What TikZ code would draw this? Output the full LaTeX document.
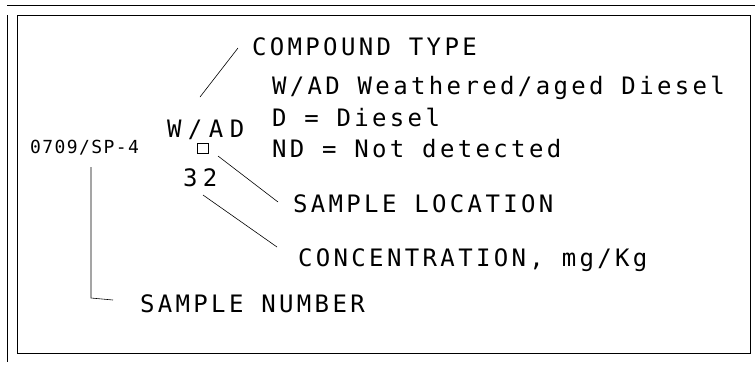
\documentclass[tikz,border=0pt]{standalone}
\usepackage{fontspec}
\newfontfamily\plotfont[LetterSpace=14]{DejaVu Sans Mono}
\newfontfamily\plotwide[LetterSpace=27]{DejaVu Sans Mono}
\newfontfamily\plotnum[LetterSpace=23]{DejaVu Sans Mono}
\newfontfamily\plotsmall[LetterSpace=8]{DejaVu Sans Mono}
\begin{document}
\begin{tikzpicture}[x=1pt,y=-1pt,
  lbl/.style={anchor=base west,inner sep=0pt,outer sep=0pt,font=\plotfont\fontsize{24}{28}\selectfont},
  framel/.style={line width=0.7pt},
  leader/.style={line width=0.6pt}]
\useasboundingbox (0,0) rectangle (755,365);
% frame
\draw[framel] (17,15) rectangle (750,353);
\draw[framel] (7,5) -- (755,5);
\draw[framel] (7,15) -- (7,362);
% legend texts
\node[lbl] (ctype) at (252,55) {COMPOUND TYPE};
\node[lbl] (wadw) at (272,94) {W/AD Weathered/aged Diesel};
\node[lbl] (dsl) at (272,126) {D = Diesel};
\node[lbl] (nd) at (272,157) {ND = Not detected};
\node[lbl,font=\plotsmall\fontsize{18}{22}\selectfont] (num) at (30,153) {0709/SP-4};
\node[lbl,font=\plotwide\fontsize{24}{28}\selectfont] (wad) at (167,137) {W/AD};
\node[draw,line width=0.6pt,minimum width=11pt,minimum height=10pt,inner sep=0pt] (sq) at (202.5,148) {};
\node[lbl,font=\plotnum\fontsize{24}{28}\selectfont] (val) at (183,186) {32};
\node[lbl] (sloc) at (293,212) {SAMPLE LOCATION};
\node[lbl] (conc) at (298,266) {CONCENTRATION, mg/Kg};
\node[lbl] (snum) at (140,312) {SAMPLE NUMBER};
% leader lines
\coordinate (ct-a) at (200,97);
\coordinate (ct-b) at (238,48);
\coordinate (sq-a) at (218,156);
\coordinate (sq-b) at (278,202);
\coordinate (v-a) at (203,195);
\coordinate (v-b) at (277,247);
\coordinate (n-a) at (91,167);
\coordinate (n-c) at (91,298);
\coordinate (n-b) at (113,300);
\draw[leader] (ct-a) -- (ct-b);
\draw[leader] (sq-a) -- (sq-b);
\draw[leader] (v-a) -- (v-b);
\draw[leader] (n-a) -- (n-c) -- (n-b);
\end{tikzpicture}
\end{document}
